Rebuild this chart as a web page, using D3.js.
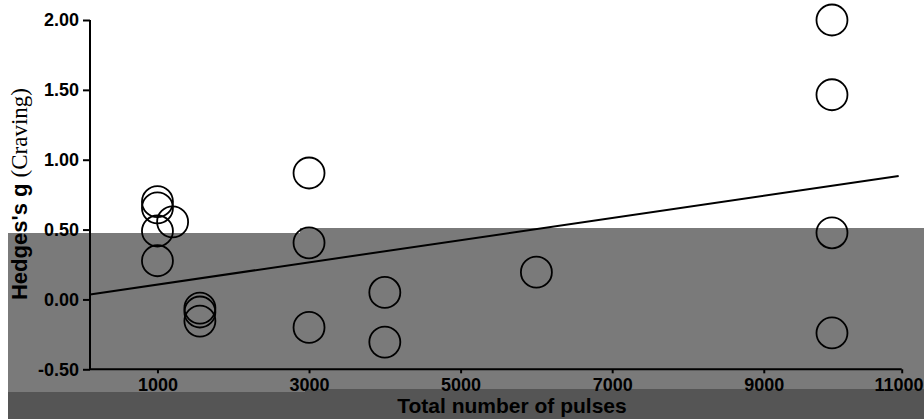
<!DOCTYPE html>
<html>
<head>
<meta charset="utf-8">
<script src="https://cdn.jsdelivr.net/npm/d3@7/dist/d3.min.js"></script>
<style>
  body { margin: 0; background: #fff; }
  svg { display: block; }
  .tick text { font-family: "Liberation Sans", Arial, sans-serif; font-weight: bold; font-size: 18px; fill: #000; }
  .domain, .tick line { stroke: #000; stroke-width: 2; }
</style>
</head>
<body>
<svg id="chart" width="924" height="419"></svg>
<script>
// Studies: total pulses vs effect size
const pulses = [1000, 1000, 1000, 1000, 1200, 1560, 1560, 1560,
                3000, 3000, 3000, 4000, 4000, 6000, 9900, 9900, 9900, 9900];
const hedgesG = [0.70, 0.655, 0.49, 0.277, 0.555, -0.062, -0.09, -0.155,
                 0.905, 0.405, -0.20, 0.05, -0.305, 0.195, 2.00, 1.465, 0.477, -0.24];

// Fitted line, two end points
const fitX = [110, 10780];
const fitY = [0.036, 0.883];

const xTicks = [1000, 3000, 5000, 7000, 9000, 10820];
const xTickLabels = ["1000", "3000", "5000", "7000", "9000", "11000"];
const yTicks = [-0.5, 0, 0.5, 1.0, 1.5, 2.0];

const width = 924, height = 419;
const svg = d3.select('#chart');

// grey overlay bands seen in the original scan
const bands = svg.append('g');
bands.append('rect').attr('x', 8).attr('y', 233).attr('width', 300).attr('height', 160).attr('fill', '#7a7a7a');
bands.append('rect').attr('x', 300).attr('y', 228).attr('width', width - 300).attr('height', 165).attr('fill', '#7a7a7a');
bands.append('rect').attr('x', 8).attr('y', 392).attr('width', 300).attr('height', 27).attr('fill', '#555555');
bands.append('rect').attr('x', 305).attr('y', 389).attr('width', width - 305).attr('height', 30).attr('fill', '#555555');

const x = d3.scaleLinear().domain([110, 10820]).range([90, 901.7]);
const y = d3.scaleLinear().domain([-0.5, 2.0]).range([369.3, 20]);

// axes
svg.append('g')
  .attr('transform', `translate(0, ${y(-0.5)})`)
  .call(d3.axisBottom(x).tickValues(xTicks).tickSize(4).tickPadding(5)
    .tickFormat((d, i) => xTickLabels[i]))
  .call(g => g.select('.domain').attr('d', `M${x(110)},0H${x(10820)}`))
  // last label sits at the right edge
  .call(g => g.selectAll('.tick:last-of-type text').attr('text-anchor', 'end').attr('x', width - 1 - x(10820)));

svg.append('g')
  .attr('transform', `translate(${x(110)}, 0)`)
  .call(d3.axisLeft(y).tickValues(yTicks).tickSize(7).tickPadding(4)
    .tickFormat(d => d.toFixed(2)))
  .call(g => g.select('.domain').attr('d', `M0,${y(-0.5)}V${y(2.0)}`));

// fit line
const line = d3.line().x(d => x(d[0])).y(d => y(d[1]));
svg.append('path')
  .attr('d', line(fitX.map((v, i) => [v, fitY[i]])))
  .attr('fill', 'none').attr('stroke', '#000').attr('stroke-width', 2);

// study points
svg.append('g').selectAll('circle')
  .data(pulses.map((p, i) => ({p, g: hedgesG[i]})))
  .enter().append('circle')
  .attr('cx', d => x(d.p))
  .attr('cy', d => y(d.g))
  .attr('r', 15.5)
  .attr('fill', 'none')
  .attr('stroke', '#000')
  .attr('stroke-width', 1.8);

// axis titles
svg.append('text')
  .attr('x', 512).attr('y', 413)
  .attr('text-anchor', 'middle')
  .attr('font-family', '"Liberation Sans", Arial, sans-serif')
  .attr('font-weight', 'bold').attr('font-size', 21)
  .text('Total number of pulses');

const yTitle = svg.append('text')
  .attr('transform', 'translate(27, 194) rotate(-90)')
  .attr('text-anchor', 'middle')
  .attr('font-size', 22);
yTitle.append('tspan')
  .attr('font-family', '"Liberation Sans", Arial, sans-serif')
  .attr('font-weight', 'bold')
  .text("Hedges's g ");
yTitle.append('tspan')
  .attr('font-family', '"Liberation Serif", "Times New Roman", serif')
  .attr('font-size', 23)
  .text('(Craving)');
</script>
</body>
</html>
